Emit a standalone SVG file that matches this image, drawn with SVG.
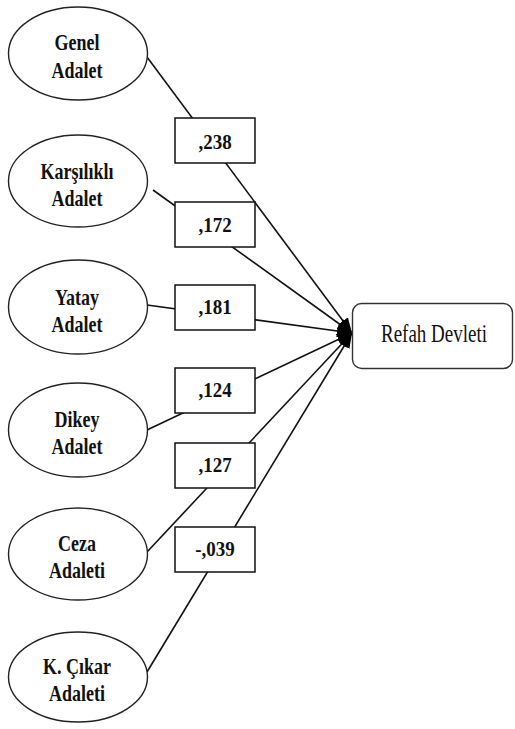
<svg xmlns="http://www.w3.org/2000/svg" width="515" height="729" viewBox="0 0 515 729" font-family="'Liberation Serif','Times New Roman',serif">
<style>
.ell{fill:#fff;stroke:#222;stroke-width:1.4}
.box{fill:#fff;stroke:#111;stroke-width:1.5}
.lbl{font-size:18px;font-weight:bold;fill:#111;text-anchor:middle}
.val{font-size:19px;font-weight:bold;fill:#111;text-anchor:middle}
.edge{stroke:#111;stroke-width:1.6;fill:none}
</style>
<defs>
<marker id="ah" markerUnits="userSpaceOnUse" markerWidth="16" markerHeight="14" refX="15" refY="6" orient="auto">
<path d="M0,0 L15,6 L0,12 z" fill="#000"/>
</marker>
</defs>
<rect width="515" height="729" fill="#fff"/>
<g id="connectors">
<line class="edge" x1="147" y1="57" x2="352" y2="333" marker-end="url(#ah)"/>
<line class="edge" x1="153" y1="190" x2="352" y2="333" marker-end="url(#ah)"/>
<line class="edge" x1="147" y1="305" x2="352" y2="333" marker-end="url(#ah)"/>
<line class="edge" x1="147" y1="430" x2="352" y2="333" marker-end="url(#ah)"/>
<line class="edge" x1="147" y1="552" x2="352" y2="333" marker-end="url(#ah)"/>
<line class="edge" x1="147" y1="672" x2="352" y2="333" marker-end="url(#ah)"/>
</g>
<g id="genel"><ellipse class="ell" cx="78" cy="53.5" rx="69.5" ry="46.5"/><text class="lbl" transform="translate(77,50) scale(1,1.25)">Genel</text><text class="lbl" transform="translate(77,78) scale(1,1.25)">Adalet</text></g>
<g id="karsilikli"><ellipse class="ell" cx="78" cy="181" rx="69.5" ry="46"/><text class="lbl" transform="translate(77,179) scale(1,1.25)">Karşılıklı</text><text class="lbl" transform="translate(77,206) scale(1,1.25)">Adalet</text></g>
<g id="yatay"><ellipse class="ell" cx="78" cy="307" rx="69.5" ry="47"/><text class="lbl" transform="translate(77,305) scale(1,1.25)">Yatay</text><text class="lbl" transform="translate(77,332) scale(1,1.25)">Adalet</text></g>
<g id="dikey"><ellipse class="ell" cx="78" cy="430" rx="69.5" ry="47"/><text class="lbl" transform="translate(77,427) scale(1,1.25)">Dikey</text><text class="lbl" transform="translate(77,454) scale(1,1.25)">Adalet</text></g>
<g id="ceza"><ellipse class="ell" cx="78" cy="554" rx="69.5" ry="46"/><text class="lbl" transform="translate(77,551) scale(1,1.25)">Ceza</text><text class="lbl" transform="translate(77,578) scale(1,1.25)">Adaleti</text></g>
<g id="kcikar"><ellipse class="ell" cx="78" cy="677" rx="69.5" ry="45"/><text class="lbl" transform="translate(77,674) scale(1,1.25)">K. Çıkar</text><text class="lbl" transform="translate(77,701) scale(1,1.25)">Adaleti</text></g>
<g id="w238"><rect class="box" x="175" y="118" width="80" height="45"/><text class="val" transform="translate(215,149) scale(1,1.1)">,238</text></g>
<g id="w172"><rect class="box" x="175" y="202" width="80" height="45"/><text class="val" transform="translate(215,232) scale(1,1.1)">,172</text></g>
<g id="w181"><rect class="box" x="175" y="285" width="80" height="45"/><text class="val" transform="translate(215,314) scale(1,1.1)">,181</text></g>
<g id="w124"><rect class="box" x="175" y="368" width="80" height="45"/><text class="val" transform="translate(215,397) scale(1,1.1)">,124</text></g>
<g id="w127"><rect class="box" x="175" y="443" width="80" height="45"/><text class="val" transform="translate(215,472) scale(1,1.1)">,127</text></g>
<g id="w039"><rect class="box" x="175" y="527" width="80" height="45"/><text class="val" transform="translate(215,556) scale(1,1.1)">-,039</text></g>
<g id="refah"><rect x="352.5" y="303.5" width="160" height="65" rx="9" fill="#fff" stroke="#333" stroke-width="1.4"/><text transform="translate(434,342) scale(1,1.3)" font-size="19" fill="#111" text-anchor="middle">Refah Devleti</text></g>
</svg>
